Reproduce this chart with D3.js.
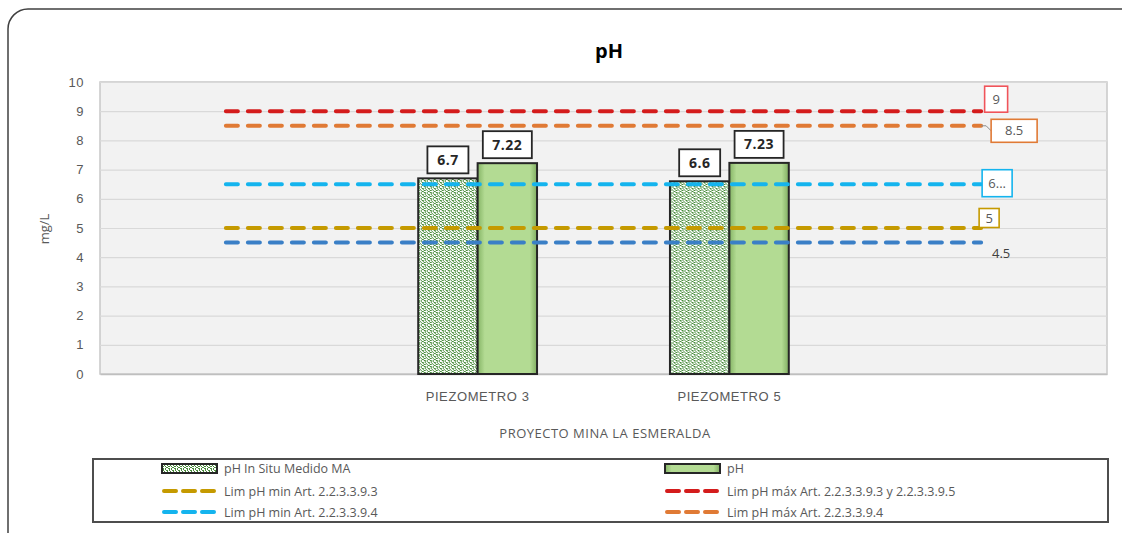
<!DOCTYPE html>
<html lang="es">
<head>
<meta charset="utf-8">
<title>pH</title>
<script src="https://d3js.org/d3.v7.min.js"></script>
<style>
  body { margin: 0; background: #fff; }
  svg { display: block; font-family: "Open Sans", "Noto Sans", sans-serif; }
  .tick text { fill: #595959; font-size: 13px; }
  .lbl { fill: #595959; font-size: 12.5px; }
</style>
</head>
<body>
<script>
  // ---- data ----
  const categories = ["", "PIEZOMETRO 3", "PIEZOMETRO 5", " "];
  const seriesNames = ["pH In Situ Medido MA", "pH"];
  const insituValues = [null, 6.7, 6.6, null];
  const phValues = [null, 7.22, 7.23, null];
  const limitNames = [
    "Lim pH min Art. 2.2.3.3.9.3",
    "Lim pH máx Art. 2.2.3.3.9.3 y 2.2.3.3.9.5",
    "Lim pH min Art. 2.2.3.3.9.4",
    "Lim pH máx Art. 2.2.3.3.9.4"
  ];
  const limitValues = [5, 9, 6.5, 8.5];
  const limitLabels = ["5", "9", "6...", "8.5"];
  const extraLine = { name: "", value: 4.5, label: "4.5" };
  const yTicks = [0, 1, 2, 3, 4, 5, 6, 7, 8, 9, 10];

  // ---- styles ----
  const limitColors = ["#c59a00", "#d41c1c", "#14b4ee", "#e07a35"];
  const extraColor = "#3a7fc6";
  // label placement around the end of each line (dx, dy of box centre)
  const labelPlace = [
    { dx: 8, dy: -10, w: 20, h: 19 },
    { dx: 15, dy: -12, w: 23, h: 26 },
    { dx: 16, dy: -1, w: 30, h: 27 },
    { dx: 33, dy: 5, w: 46, h: 23 }
  ];

  const W = 1122, H = 533;
  const plot = { left: 100, right: 1107, top: 82, bottom: 374 };

  const svg = d3.select("body").append("svg").attr("width", W).attr("height", H);
  const defs = svg.append("defs");

  // confetti pattern for the in-situ series
  const pat = defs.append("pattern").attr("id", "confetti")
    .attr("patternUnits", "userSpaceOnUse").attr("width", 6).attr("height", 6);
  pat.append("rect").attr("width", 6).attr("height", 6).attr("fill", "#ffffff");
  [[0, 0, 2, 1], [1, 1, 1, 1], [3, 0, 1, 2], [4, 2, 2, 1], [2, 3, 1, 1], [0, 4, 2, 1],
   [3, 4, 1, 1], [4, 5, 2, 1], [5, 3, 1, 1], [1, 2, 1, 1]].forEach(p => {
    pat.append("rect").attr("x", p[0]).attr("y", p[1]).attr("width", p[2]).attr("height", p[3])
      .attr("fill", "#4a8c3c");
  });

  // bevel-ish gradient for the green bars
  const grad = defs.append("linearGradient").attr("id", "greenBar")
    .attr("x1", 0).attr("x2", 1).attr("y1", 0).attr("y2", 0);
  grad.append("stop").attr("offset", "0%").attr("stop-color", "#86b566");
  grad.append("stop").attr("offset", "12%").attr("stop-color", "#b3db93");
  grad.append("stop").attr("offset", "88%").attr("stop-color", "#b3db93");
  grad.append("stop").attr("offset", "100%").attr("stop-color", "#80ad61");

  // chart frame
  svg.append("rect").attr("x", 8).attr("y", 9).attr("width", 1140).attr("height", 560)
    .attr("rx", 20).attr("fill", "#fff").attr("stroke", "#404040").attr("stroke-width", 1.5);

  // title
  svg.append("text").attr("x", 609).attr("y", 58).attr("text-anchor", "middle")
    .style("font-size", "20px").style("font-weight", "bold").style("fill", "#000")
    .text("pH");

  // scales
  const x = d3.scaleBand().domain(categories).range([plot.left, plot.right]);
  const y = d3.scaleLinear().domain([0, 10]).range([plot.bottom, plot.top]);
  const xSub = d3.scaleBand().domain(seriesNames)
    .range([x.bandwidth() * 0.264, x.bandwidth() * 0.736]);

  // plot background
  svg.append("rect").attr("x", plot.left).attr("y", plot.top)
    .attr("width", plot.right - plot.left).attr("height", plot.bottom - plot.top)
    .attr("fill", "#f2f2f2").attr("stroke", "#c8c8c8").attr("stroke-width", 1.5);

  // y axis + gridlines
  const yAxis = svg.append("g").attr("class", "axis")
    .attr("transform", `translate(${plot.left},0)`)
    .call(d3.axisLeft(y).tickValues(yTicks).tickSize(-(plot.right - plot.left)).tickPadding(16));
  yAxis.select(".domain").remove();
  yAxis.selectAll(".tick line").attr("stroke", "#d9d9d9").attr("stroke-width", 1.2);
  yAxis.selectAll(".tick text").attr("font-family", null).attr("font-size", null)
    .style("letter-spacing", "0.5px");

  // x axis labels
  const xAxis = svg.append("g").attr("class", "axis")
    .attr("transform", `translate(0,${plot.bottom})`)
    .call(d3.axisBottom(x).tickSize(0).tickPadding(18));
  xAxis.select(".domain").attr("stroke", "#bfbfbf").attr("stroke-width", 1.5);
  xAxis.selectAll(".tick text").attr("font-family", null).attr("font-size", null)
    .style("letter-spacing", "0.6px");

  svg.append("text").attr("class", "lbl").attr("x", 605).attr("y", 438)
    .attr("text-anchor", "middle").style("font-size", "13px").style("letter-spacing", "0.5px")
    .text("PROYECTO MINA LA ESMERALDA");

  svg.append("text").attr("class", "lbl")
    .attr("transform", "translate(49,229) rotate(-90)")
    .attr("text-anchor", "middle").style("font-size", "13px")
    .text("mg/L");

  // bars
  const rows = categories.map((c, i) => ({ cat: c, vals: [insituValues[i], phValues[i]] }))
    .filter(r => r.vals[0] != null);
  const fills = ["url(#confetti)", "url(#greenBar)"];

  const grp = svg.selectAll("g.bar").data(rows).join("g").attr("class", "bar")
    .attr("transform", d => `translate(${x(d.cat)},0)`);

  grp.selectAll("rect").data(d => d.vals.map((v, k) => ({ v, k })))
    .join("rect")
    .attr("x", d => xSub(seriesNames[d.k]))
    .attr("y", d => y(d.v))
    .attr("width", xSub.bandwidth())
    .attr("height", d => y(0) - y(d.v))
    .attr("fill", d => fills[d.k])
    .attr("stroke", "#262626").attr("stroke-width", 2);

  // value labels in boxes
  const valFmt = v => String(v);
  grp.selectAll("g.val").data(d => d.vals.map((v, k) => ({ v, k })))
    .join("g").attr("class", "val")
    .each(function (d) {
      const g = d3.select(this);
      const txt = valFmt(d.v);
      const bw = txt.length > 3 ? 49 : 41;
      const cx = xSub(seriesNames[d.k]) + xSub.bandwidth() / 2;
      const bottom = y(d.v) - 5;
      g.append("rect").attr("x", cx - bw / 2).attr("y", bottom - 27)
        .attr("width", bw).attr("height", 27)
        .attr("fill", "#fff").attr("stroke", "#262626").attr("stroke-width", 1.8);
      g.append("text").attr("x", cx).attr("y", bottom - 8.5).attr("text-anchor", "middle")
        .style("font-size", "14px").style("font-weight", "bold").style("fill", "#262626")
        .style("letter-spacing", "0.5px")
        .text(txt);
    });

  // limit lines
  const x0 = x(categories[0]) + x.bandwidth() / 2;
  const x1 = x(categories[categories.length - 1]) + x.bandwidth() / 2;

  svg.append("line").attr("x1", x0).attr("x2", x1)
    .attr("y1", y(extraLine.value)).attr("y2", y(extraLine.value))
    .attr("stroke", extraColor).attr("stroke-width", 4)
    .attr("stroke-dasharray", "12,10").attr("stroke-linecap", "round");

  const drawOrder = [3, 1, 2, 0];
  drawOrder.forEach(i => {
    svg.append("line").attr("x1", x0).attr("x2", x1)
      .attr("y1", y(limitValues[i])).attr("y2", y(limitValues[i]))
      .attr("stroke", limitColors[i]).attr("stroke-width", 4)
      .attr("stroke-dasharray", "12,10").attr("stroke-linecap", "round");
  });

  // end labels
  limitValues.forEach((v, i) => {
    const p = labelPlace[i];
    const cx = x1 + p.dx, cy = y(v) + p.dy;
    if (i === 3) {
      svg.append("polyline")
        .attr("points", `${x1},${y(v)} ${x1 + 5},${y(v)} ${cx - p.w / 2},${cy}`)
        .attr("fill", "none").attr("stroke", "#8c8c8c").attr("stroke-width", 1);
    }
    svg.append("rect").attr("x", cx - p.w / 2).attr("y", cy - p.h / 2)
      .attr("width", p.w).attr("height", p.h)
      .attr("fill", "#fff").attr("stroke", limitColors[i] === "#d41c1c" ? "#f0545a" : limitColors[i])
      .attr("stroke-width", 1.6);
    svg.append("text").attr("class", "lbl").attr("x", cx).attr("y", cy + 4.5)
      .attr("text-anchor", "middle").style("font-size", "13px")
      .text(limitLabels[i]);
  });
  svg.append("text").attr("class", "lbl").attr("x", x1 + 20).attr("y", y(extraLine.value) + 15)
    .attr("text-anchor", "middle").style("font-size", "13px").style("fill", "#404040")
    .text(extraLine.label);

  // legend
  const leg = svg.append("g");
  leg.append("rect").attr("x", 93).attr("y", 459).attr("width", 1015).attr("height", 63)
    .attr("fill", "#fff").attr("stroke", "#4d4d4d").attr("stroke-width", 2);

  const legItems = [
    { name: seriesNames[0], type: "bar", fill: fills[0] },
    { name: seriesNames[1], type: "bar", fill: fills[1] },
    { name: limitNames[0], type: "line", color: limitColors[0] },
    { name: limitNames[1], type: "line", color: limitColors[1] },
    { name: limitNames[2], type: "line", color: limitColors[2] },
    { name: limitNames[3], type: "line", color: limitColors[3] }
  ];
  const colX = [162, 665], rowY = [468, 491, 512];
  legItems.forEach((it, i) => {
    const cx = colX[i % 2], cy = rowY[Math.floor(i / 2)];
    if (it.type === "bar") {
      leg.append("rect").attr("x", cx).attr("y", cy - 4).attr("width", 55).attr("height", 9)
        .attr("fill", it.fill).attr("stroke", "#262626").attr("stroke-width", 2);
    } else {
      leg.append("line").attr("x1", cx + 2).attr("x2", cx + 55).attr("y1", cy).attr("y2", cy)
        .attr("stroke", it.color).attr("stroke-width", 4)
        .attr("stroke-dasharray", "12,7").attr("stroke-linecap", "round");
    }
    leg.append("text").attr("class", "lbl").attr("x", cx + 62).attr("y", cy + 4.5)
      .text(it.name);
  });
</script>
</body>
</html>
